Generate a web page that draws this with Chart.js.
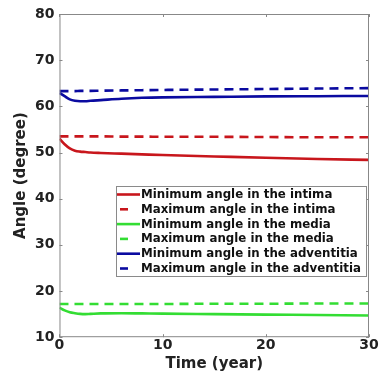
<!DOCTYPE html>
<html>
<head>
<meta charset="utf-8">
<script src="https://cdn.jsdelivr.net/npm/chart.js@4"></script>
<style>
  html, body { margin: 0; padding: 0; background: #fff; }
  #wrap { position: relative; width: 390px; height: 380px; }
</style>
</head>
<body>
<div id="wrap"><canvas id="chart" width="390" height="380"></canvas></div>
<script>
// time points (years)
const times = [0, 0.5, 1, 1.5, 2, 2.5, 3, 4, 6, 8, 10, 15, 20, 25, 30];

const minIntima     = [53.0, 51.8, 50.9, 50.4, 50.2, 50.1, 50.0, 49.9, 49.75, 49.6, 49.45, 49.15, 48.85, 48.6, 48.4];
const maxIntima     = [53.5, 53.5, 53.5, 53.5, 53.5, 53.5, 53.5, 53.5, 53.45, 53.45, 53.4, 53.4, 53.35, 53.3, 53.3];
const minMedia      = [16.4, 15.8, 15.4, 15.2, 15.05, 15.0, 15.05, 15.15, 15.2, 15.15, 15.1, 15.0, 14.9, 14.8, 14.7];
const maxMedia      = [17.2, 17.2, 17.2, 17.2, 17.2, 17.2, 17.2, 17.2, 17.2, 17.2, 17.2, 17.25, 17.25, 17.3, 17.3];
const minAdventitia = [62.9, 62.2, 61.5, 61.2, 61.1, 61.1, 61.2, 61.35, 61.65, 61.85, 61.95, 62.05, 62.15, 62.2, 62.25];
const maxAdventitia = [63.3, 63.3, 63.3, 63.3, 63.35, 63.35, 63.35, 63.4, 63.45, 63.5, 63.55, 63.65, 63.75, 63.85, 63.95];

const seriesLabels = [
    'Minimum angle in the intima',
    'Maximum angle in the intima',
    'Minimum angle in the media',
    'Maximum angle in the media',
    'Minimum angle in the adventitia',
    'Maximum angle in the adventitia'
];
const seriesValues = [minIntima, maxIntima, minMedia, maxMedia, minAdventitia, maxAdventitia];
const seriesColors = ['#c8161c', '#c8161c', '#33dd33', '#33dd33', '#0a0aa0', '#0a0aa0'];
const seriesDashed = [false, true, false, true, false, true];

const font = "'DejaVu Sans', sans-serif";

const datasets = seriesValues.map((vals, i) => ({
    label: seriesLabels[i],
    data: vals.map((v, j) => ({ x: times[j], y: v })),
    borderColor: seriesColors[i],
    backgroundColor: seriesColors[i],
    borderWidth: 2.6,
    borderDash: seriesDashed[i] ? [9, 6] : [],
    pointRadius: 0,
    tension: 0.4,
    cubicInterpolationMode: 'monotone'
}));

// legend box drawn inside the plot area, like the original
const insideLegend = {
    id: 'insideLegend',
    afterDraw(chart) {
        const ctx = chart.ctx;
        const x0 = 116, y0 = 186, w = 250, h = 90;
        ctx.save();
        ctx.fillStyle = '#fff';
        ctx.fillRect(x0, y0, w, h);
        ctx.strokeStyle = '#8a8a8a';
        ctx.lineWidth = 1;
        ctx.setLineDash([]);
        ctx.strokeRect(x0 + 0.5, y0 + 0.5, w, h);
        ctx.font = 'bold 11.8px ' + font;
        ctx.textBaseline = 'middle';
        chart.data.datasets.forEach((ds, i) => {
            const y = y0 + 8.5 + i * 14.8;
            ctx.strokeStyle = ds.borderColor;
            ctx.lineWidth = 2.6;
            ctx.beginPath();
            if (seriesDashed[i]) {
                ctx.moveTo(x0 + 4, y);
                ctx.lineTo(x0 + 12, y);
            } else {
                ctx.moveTo(x0 + 1, y);
                ctx.lineTo(x0 + 24, y);
            }
            ctx.stroke();
            ctx.fillStyle = '#111';
            ctx.fillText(ds.label, x0 + 25, y + 0.5);
        });
        ctx.restore();
    }
};

// full box frame with inward ticks
const frame = {
    id: 'frame',
    afterDraw(chart) {
        const { ctx, chartArea: a, scales } = chart;
        ctx.save();
        ctx.strokeStyle = '#888';
        ctx.lineWidth = 1;
        ctx.strokeRect(a.left + 0.5, a.top + 0.5, a.right - a.left - 1, a.bottom - a.top - 1);
        ctx.beginPath();
        scales.y.ticks.forEach(t => {
            const y = Math.round(scales.y.getPixelForValue(t.value)) + 0.5;
            ctx.moveTo(a.left, y); ctx.lineTo(a.left + 3, y);
            ctx.moveTo(a.right, y); ctx.lineTo(a.right - 3, y);
        });
        scales.x.ticks.forEach(t => {
            const x = Math.round(scales.x.getPixelForValue(t.value)) + 0.5;
            ctx.moveTo(x, a.bottom); ctx.lineTo(x, a.bottom - 3);
            ctx.moveTo(x, a.top); ctx.lineTo(x, a.top + 3);
        });
        ctx.stroke();
        ctx.restore();
    }
};

new Chart(document.getElementById('chart'), {
    type: 'line',
    data: { datasets },
    options: {
        responsive: false,
        animation: false,
        layout: { padding: { top: 14, right: 21, left: 12, bottom: 3 } },
        plugins: {
            legend: { display: false },
            tooltip: { enabled: false }
        },
        scales: {
            x: {
                type: 'linear',
                min: 0,
                max: 30,
                ticks: { stepSize: 10, color: '#222', font: { family: font, size: 14, weight: 'bold' }, padding: 0 },
                grid: { display: false, drawTicks: false },
                border: { display: false },
                title: { display: true, text: 'Time (year)', color: '#222', font: { family: font, size: 15, weight: 'bold' }, padding: { top: 1, bottom: 4 } }
            },
            y: {
                min: 10,
                max: 80,
                ticks: { stepSize: 10, color: '#222', font: { family: font, size: 14, weight: 'bold' }, padding: 5 },
                grid: { display: false, drawTicks: false },
                border: { display: false },
                title: { display: true, text: 'Angle (degree)', color: '#222', font: { family: font, size: 15, weight: 'bold' }, padding: { top: 0, bottom: 0 } }
            }
        }
    },
    plugins: [frame, insideLegend]
});
</script>
</body>
</html>
